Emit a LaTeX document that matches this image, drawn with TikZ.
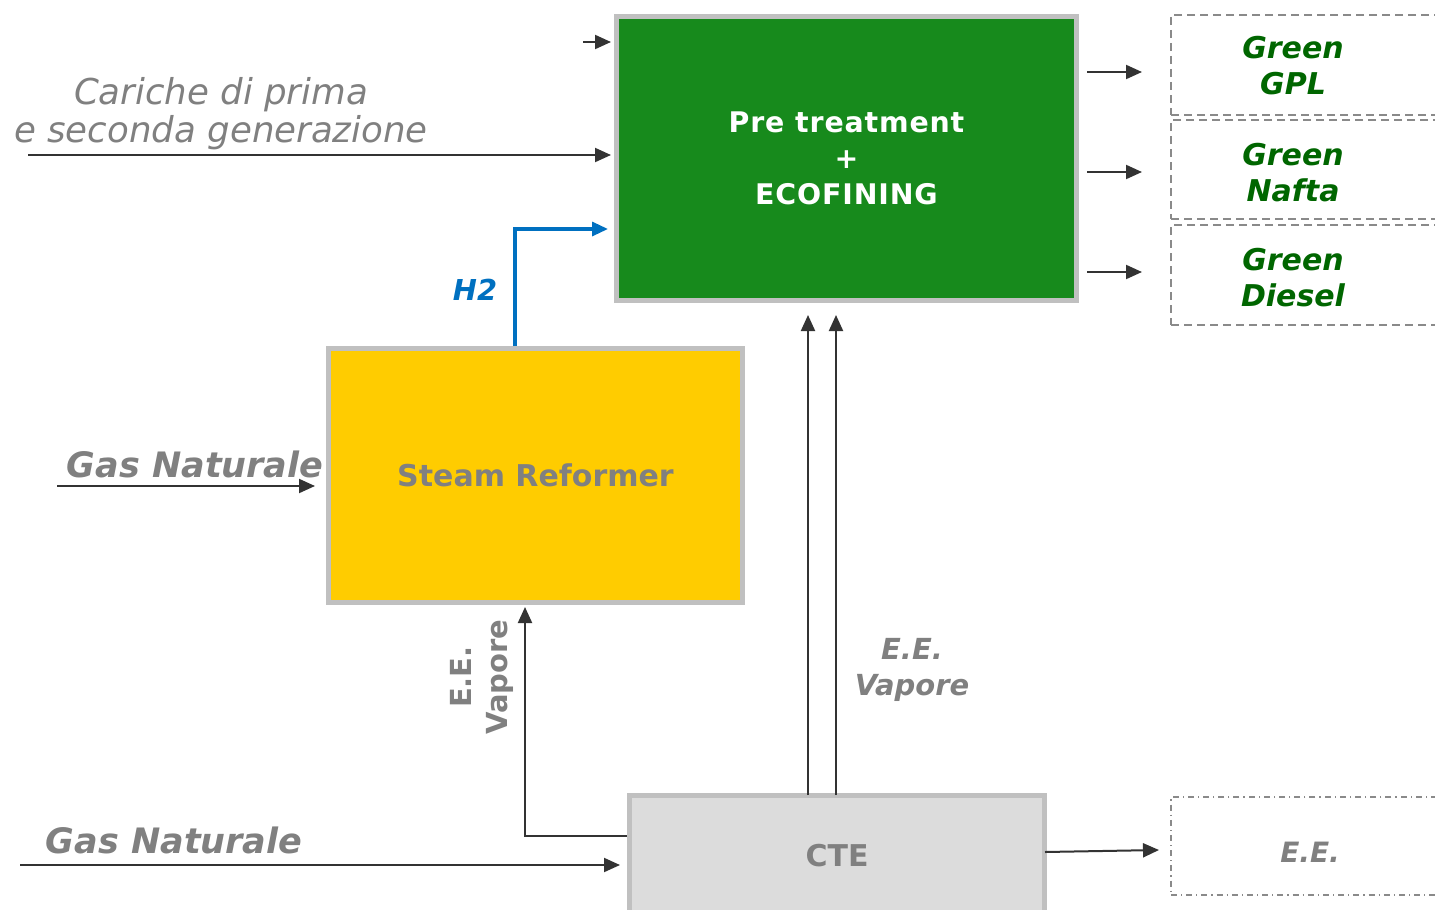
\documentclass[tikz,border=0pt]{standalone}
\usepackage{fontspec}
\setmainfont{DejaVu Sans}
\usetikzlibrary{arrows.meta}
\definecolor{boxgray}{HTML}{C0C0C0}
\definecolor{ecogreen}{HTML}{178A1C}
\definecolor{txtgreen}{HTML}{006600}
\definecolor{reformyellow}{HTML}{FFCC00}
\definecolor{ctefill}{HTML}{DCDCDC}
\definecolor{txtgray}{HTML}{808080}
\definecolor{arrgray}{HTML}{333333}
\definecolor{hblue}{HTML}{0070C0}
\definecolor{dashgray}{HTML}{8A8A8A}
\tikzset{
  unit/.style={draw=boxgray, line width=2.5pt, inner sep=0pt, align=center},
  outbox/.style={draw=dashgray, line width=1pt, dash pattern=on 4pt off 2.5pt, minimum width=137pt, inner sep=0pt},
  eebox/.style={draw=dashgray, line width=1pt, dash pattern=on 3pt off 2pt on 0.6pt off 2pt, minimum width=137pt, inner sep=0pt},
  arr/.style={draw=arrgray, line width=1pt, -{Triangle[length=8pt,width=7pt]}},
  harr/.style={draw=hblue, line width=1.6pt, -{Triangle[length=8pt,width=7pt]}},
  greentxt/.style={text=txtgreen, font=\fontsize{15}{18}\selectfont\bfseries\itshape, align=center},
  graylbl/.style={text=txtgray, font=\fontsize{17.5}{19}\selectfont\bfseries\itshape},
}
\begin{document}
\begin{tikzpicture}[x=0.5pt, y=-0.5pt]
\clip (0,0) rectangle (1435,910);
\useasboundingbox (0,0) rectangle (1435,910);

% main units
\node[unit, fill=ecogreen, minimum width=230pt, minimum height=142pt,
      text=white, font=\fontsize{14.2}{18}\selectfont\bfseries\addfontfeature{LetterSpace=3}] (eco) at (846.5,158.5)
      {Pre treatment\\+\\ECOFINING};
\node[unit, fill=reformyellow, minimum width=207pt, minimum height=127pt,
      text=txtgray, font=\fontsize{15}{18}\selectfont\bfseries] (sr) at (535.5,475.5)
      {Steam Reformer};
\node[unit, fill=ctefill, minimum width=207.5pt, minimum height=60pt,
      text=txtgray, font=\fontsize{15}{18}\selectfont\bfseries] (cte) at (837,855.5)
      {CTE};

% product boxes
\node[outbox, minimum height=50pt] (gpl) at (1308,65) {};
\node[outbox, minimum height=49.5pt] (nafta) at (1308,169.5) {};
\node[outbox, minimum height=50pt] (diesel) at (1308,275) {};
\node[eebox, minimum height=49pt] (ee) at (1308,846) {};
\node[greentxt] (gpltxt) at (1293,66) {Green\\GPL};
\node[greentxt] (naftatxt) at (1293,173) {Green\\Nafta};
\node[greentxt] (dieseltxt) at (1293,278) {Green\\Diesel};
\node[text=txtgray, font=\fontsize{14}{17}\selectfont\bfseries\itshape] (eetxt) at (1310,852) {E.E.};

% labels
\node[text=txtgray, font=\fontsize{17.8}{19}\selectfont\itshape, align=center] (cariche) at (221,114)
      {Cariche di prima\\e seconda generazione};
\node[graylbl] (gas1) at (195,464) {Gas Naturale};
\node[graylbl] (gas2) at (174,840) {Gas Naturale};
\node[text=hblue, font=\fontsize{14.4}{17}\selectfont\bfseries\itshape] (h2) at (475,290) {H2};
\node[text=txtgray, font=\fontsize{14.5}{18}\selectfont\bfseries\itshape, align=center] (eev1) at (912,670) {E.E.\\Vapore};
\node[text=txtgray, font=\fontsize{14.5}{18}\selectfont\bfseries, align=center, rotate=90] (eev2) at (482,677) {E.E.\\Vapore};

% inputs to ECOFINING
\coordinate (in1) at (583,42);
\draw[arr] (in1) -- ([xshift=-1.5pt]in1 -| eco.west);
\coordinate (in2) at (28,155);
\draw[arr] (in2) -- ([xshift=-1.5pt]in2 -| eco.west);
\coordinate (hb) at (515,229);
\draw[harr] (hb |- sr.north) -- (hb) -- ([xshift=-3pt]hb -| eco.west);

% outputs
\draw[arr] ([xshift=4pt]eco.east |- 0,72) -- ([xshift=-14pt]gpl.west |- 0,72);
\draw[arr] ([xshift=4pt]eco.east |- 0,172) -- ([xshift=-14pt]nafta.west |- 0,172);
\draw[arr] ([xshift=4pt]eco.east |- 0,272) -- ([xshift=-14pt]diesel.west |- 0,272);

% gas naturale
\coordinate (g1) at (57,486);
\draw[arr] (g1) -- ([xshift=-5.5pt]g1 -| sr.west);
\coordinate (g2) at (20,865);
\draw[arr] (g2) -- ([xshift=-3.5pt]g2 -| cte.west);

% CTE utilities
\draw[arr] ([yshift=-1pt]cte.north -| 808,0) -- ([yshift=-6pt]eco.south -| 808,0);
\draw[arr] ([yshift=-1pt]cte.north -| 836,0) -- ([yshift=-6pt]eco.south -| 836,0);
\draw[arr] (cte.west |- 0,836) -| ([yshift=-1pt]sr.south -| 525,0);
\draw[arr] ([xshift=-1pt]cte.east |- 0,852) -- ([xshift=-5.5pt]ee.west |- 0,850);
\end{tikzpicture}
\end{document}
